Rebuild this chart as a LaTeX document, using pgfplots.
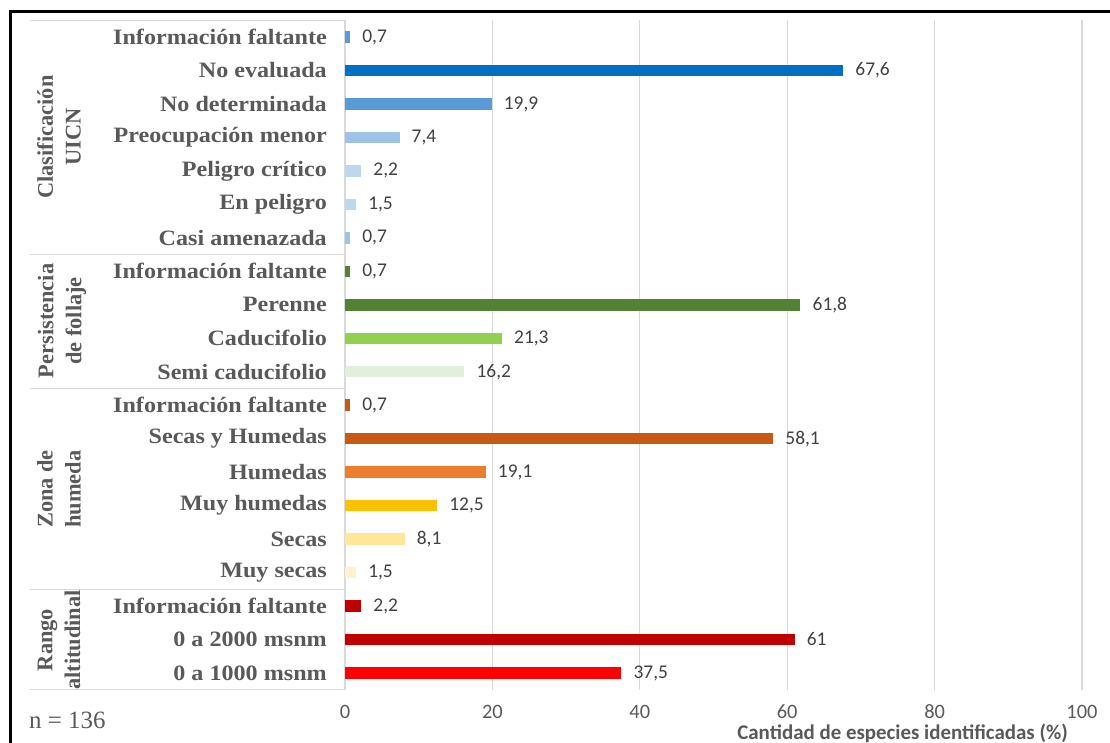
\documentclass[border=0pt]{standalone}
\usepackage{pgfplots}
\pgfplotsset{compat=1.18}
\usepackage{fontspec}
\setmainfont{Liberation Serif}
\newfontfamily\carlito{Carlito}
\newfontfamily\catfont[FakeStretch=1.1]{Liberation Serif}
\definecolor{txt}{HTML}{595959}
\definecolor{val}{HTML}{404040}
\definecolor{gridc}{HTML}{D9D9D9}
\definecolor{cA}{HTML}{5B9BD5}
\definecolor{cB}{HTML}{0070C0}
\definecolor{cC}{HTML}{9DC3E6}
\definecolor{cD}{HTML}{BDD7EE}
\definecolor{gA}{HTML}{548235}
\definecolor{gB}{HTML}{92D050}
\definecolor{gC}{HTML}{E2EFDA}
\definecolor{oA}{HTML}{C55A11}
\definecolor{oB}{HTML}{ED7D31}
\definecolor{oC}{HTML}{FFC000}
\definecolor{oD}{HTML}{FFE699}
\definecolor{oE}{HTML}{FFF2CC}
\definecolor{rA}{HTML}{C00000}
\definecolor{rB}{HTML}{FF0000}
\begin{document}
\begin{tikzpicture}
\useasboundingbox (0bp,0bp) rectangle (1110bp,743bp);
\begin{axis}[
  at={(345bp,53.3bp)}, anchor=south west,
  scale only axis, width=737bp, height=669.4bp,
  xbar, bar width=11.5bp,
  every axis plot/.append style={bar shift=0pt, draw=none},
  xmin=0, xmax=100,
  ymin=0.5, ymax=20.5, y dir=reverse,
  xtick={0,20,40,60,80,100},
  ytick={1,...,20},
  yticklabels={Información faltante, No evaluada, No determinada, Preocupación menor\hspace{9bp}, Peligro crítico, En peligro, Casi amenazada,
    Información faltante, Perenne, Caducifolio, Semi caducifolio,
    Información faltante, Secas y Humedas, Humedas\hspace{9bp}, Muy humedas\hspace{9bp}, Secas, Muy secas,
    Información faltante, 0 a 2000 msnm, 0 a 1000 msnm},
  xmajorgrids, major grid style={draw=gridc, line width=1.2bp},
  axis line style={draw=none},
  major tick length=0pt,
  /pgf/number format/.cd, use comma, fixed, precision=1, assume math mode=true,
  /pgfplots/.cd,
  yticklabel style={font=\catfont\bfseries\fontsize{22}{26}\selectfont, text=txt, anchor=east, inner sep=0pt, xshift=-18bp},
  xticklabel style={font=\carlito\fontsize{20.5}{24}\selectfont, text=txt, inner sep=0pt, yshift=-15bp},
  point meta=x,
  nodes near coords,
  nodes near coords style={font=\carlito\fontsize{19.5}{22}\selectfont, text=val, anchor=west, inner sep=0pt, xshift=12bp},
]
\addplot[fill=cA] coordinates {(0.7,1)};
\addplot[fill=cB] coordinates {(67.6,2)};
\addplot[fill=cA] coordinates {(19.9,3)};
\addplot[fill=cC] coordinates {(7.4,4)};
\addplot[fill=cD] coordinates {(2.2,5)};
\addplot[fill=cD] coordinates {(1.5,6)};
\addplot[fill=cC] coordinates {(0.7,7)};
\addplot[fill=gA] coordinates {(0.7,8)};
\addplot[fill=gA] coordinates {(61.8,9)};
\addplot[fill=gB] coordinates {(21.3,10)};
\addplot[fill=gC] coordinates {(16.2,11)};
\addplot[fill=oA] coordinates {(0.7,12)};
\addplot[fill=oA] coordinates {(58.1,13)};
\addplot[fill=oB] coordinates {(19.1,14)};
\addplot[fill=oC] coordinates {(12.5,15)};
\addplot[fill=oD] coordinates {(8.1,16)};
\addplot[fill=oE] coordinates {(1.5,17)};
\addplot[fill=rA] coordinates {(2.2,18)};
\addplot[fill=rA] coordinates {(61,19)};
\addplot[fill=rB] coordinates {(37.5,20)};
\end{axis}
% frame
\draw[line width=3bp] (10bp,0bp) -- (10bp,731.5bp) -- (1110bp,731.5bp);
% table lines
\foreach \yy in {722.7,488.4,354.6,153.8,53.3}
  \draw[gridc, line width=1.2bp] (30bp,\yy bp) -- (345bp,\yy bp);
% group labels
\begin{scope}[every node/.style={rotate=90, align=center, text=txt, font=\bfseries\fontsize{22.5}{28}\selectfont, inner sep=0pt}]
\node at (59bp,606bp) {Clasificación\\UICN};
\node at (62bp,422bp) {Persistencia\\de follaje};
\node at (59bp,254bp) {Zona de\\humeda};
\begin{scope}
\clip (30bp,53.3bp) rectangle (120bp,153.8bp);
\node at (59bp,103bp) {Rango\\altitudinal};
\end{scope}
\end{scope}
\node[anchor=base west, text=txt, font=\fontsize{25}{30}\selectfont, inner sep=0pt] at (29bp,15bp) {n = 136};
\node[anchor=base east, text=txt, font=\carlito\bfseries\fontsize{21}{25}\selectfont, inner sep=0pt] at (1068bp,4bp) {Cantidad de especies identificadas (\%)};
\end{tikzpicture}
\end{document}
